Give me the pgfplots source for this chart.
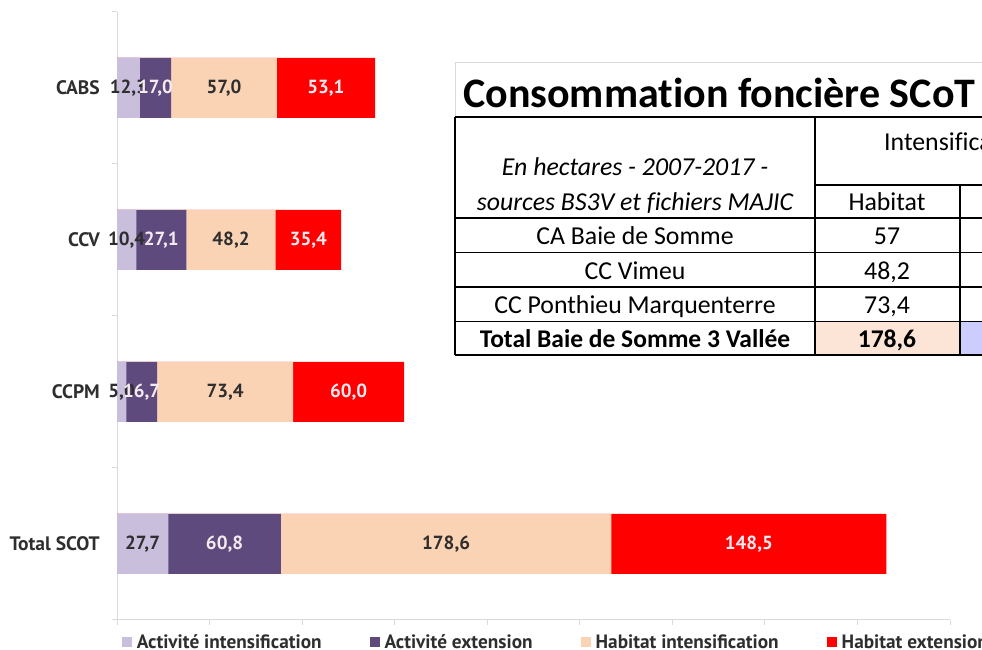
\documentclass[border=0pt]{standalone}
\usepackage{fontspec}
\usepackage{pgfplots}
\usepackage{pgfplotstable}
\pgfplotsset{compat=1.18}
\newfontfamily\dinfont{PT Sans}
\newfontfamily\calibri[Ligatures=NoCommon]{Carlito}
\definecolor{cA}{HTML}{C9BFDC}
\definecolor{cB}{HTML}{5E4A7D}
\definecolor{cC}{HTML}{FAD2B4}
\definecolor{cD}{HTML}{FF0000}
\definecolor{axgray}{HTML}{DADADA}
\definecolor{txtdark}{HTML}{2E2E2E}
\definecolor{txtlight}{HTML}{F4EAF0}
\definecolor{peach}{HTML}{FCE4D6}
\definecolor{lav}{HTML}{CCCCFF}

% values in hectares: A Activite intensification, B Activite extension,
% C Habitat intensification, D Habitat extension
\pgfplotstableread{
y  A    B    C     D     la   lb   lc    ld
3  12.3 17.0 57.0  53.1  12,3 17,0 57,0  53,1
2  10.4 27.1 48.2  35.4  10,4 27,1 48,2  35,4
1  5.0  16.7 73.4  60.0  5,0  16,7 73,4  60,0
0  27.7 60.8 178.6 148.5 27,7 60,8 178,6 148,5
}\datatable
% cumulative ends and segment centres derived from the values
\pgfplotstablecreatecol[create col/expr={\thisrow{A}+\thisrow{B}}]{sAB}\datatable
\pgfplotstablecreatecol[create col/expr={\thisrow{sAB}+\thisrow{C}}]{sABC}\datatable
\pgfplotstablecreatecol[create col/expr={\thisrow{sABC}+\thisrow{D}}]{sABCD}\datatable
\pgfplotstablecreatecol[create col/expr={\thisrow{A}/2}]{mA}\datatable
\pgfplotstablecreatecol[create col/expr={\thisrow{A}+\thisrow{B}/2}]{mB}\datatable
\pgfplotstablecreatecol[create col/expr={\thisrow{sAB}+\thisrow{C}/2}]{mC}\datatable
\pgfplotstablecreatecol[create col/expr={\thisrow{sABC}+\thisrow{D}/2}]{mD}\datatable

\begin{document}
\begin{tikzpicture}
\useasboundingbox (0,0) rectangle (982pt,650pt);
\begin{axis}[
  at={(117pt,30pt)}, anchor=south west,
  scale only axis, width=833pt, height=608pt,
  xmin=0, xmax=450, ymin=-0.5, ymax=3.5,
  axis x line*=bottom, axis y line*=left,
  axis line style={draw=axgray, line width=1pt},
  tick align=outside,
  major tick length=5pt,
  tick style={draw=axgray, line width=1pt},
  xtick={0,50,...,450}, xticklabels={},
  ytick={-0.5,0.5,1.5,2.5,3.5}, yticklabels={},
  extra y ticks={0,1,2,3},
  extra y tick labels={Total SCOT,CCPM,CCV,CABS},
  extra y tick style={major tick length=0pt,
    yticklabel style={font=\dinfont\bfseries\fontsize{19.5}{21}\selectfont, text=txtdark, inner sep=0pt, anchor=east, xshift=-17pt}},
  barstyle/.style={xbar, bar width=60pt, bar shift=0pt, draw=none, forget plot},
  lblstyle/.style={only marks, mark=none, forget plot, nodes near coords,
    point meta=explicit symbolic,
    every node near coord/.style={anchor=center, inner sep=0pt,
      font=\dinfont\bfseries\fontsize{19}{21}\selectfont, text=#1}},
  legend columns=4,
  legend style={at={(rel axis cs:0,0)}, anchor=west, xshift=4.7pt, yshift=-22pt,
    draw=none, fill=none, inner sep=0pt,
    nodes={inner sep=0pt, font=\dinfont\bfseries\fontsize{19.3}{21}\selectfont, text=txtdark},
    /tikz/every odd column/.append style={column sep=5pt},
    /tikz/every even column/.append style={column sep=48pt}},
  legend image code/.code={\fill[#1] (0pt,-5pt) rectangle (10pt,5pt);},
]
\addplot[barstyle, fill=cD] table[x=sABCD, y=y] {\datatable};
\addplot[barstyle, fill=cC] table[x=sABC, y=y] {\datatable};
\addplot[barstyle, fill=cB] table[x=sAB, y=y] {\datatable};
\addplot[barstyle, fill=cA] table[x=A, y=y] {\datatable};
\addplot[lblstyle=txtdark] table[x=mA, y=y, meta=la] {\datatable};
\addplot[lblstyle=txtlight] table[x=mB, y=y, meta=lb] {\datatable};
\addplot[lblstyle=txtdark] table[x=mC, y=y, meta=lc] {\datatable};
\addplot[lblstyle=txtlight] table[x=mD, y=y, meta=ld] {\datatable};
\addlegendimage{fill=cA, draw=none}
\addlegendentry{Activité intensification}
\addlegendimage{fill=cB, draw=none}
\addlegendentry{Activité extension}
\addlegendimage{fill=cC, draw=none}
\addlegendentry{Habitat intensification}
\addlegendimage{fill=cD, draw=none}
\addlegendentry{Habitat extension}
\end{axis}

% overlay table
\begin{scope}
\clip (0,0) rectangle (982pt,650pt);
\fill[white] (455pt,587pt) rectangle (990pt,295pt);
\fill[peach] (815pt,329pt) rectangle (960pt,295pt);
\fill[lav] (960pt,329pt) rectangle (990pt,295pt);
\draw[axgray, line width=1pt] (455pt,533pt) -- (455pt,587pt) -- (990pt,587pt);
\begin{scope}[line width=1.3pt, black]
\draw (455pt,533pt) -- (990pt,533pt);
\draw (815pt,465pt) -- (990pt,465pt);
\draw (455pt,432pt) -- (990pt,432pt);
\draw (455pt,397.5pt) -- (990pt,397.5pt);
\draw (455pt,363pt) -- (990pt,363pt);
\draw (455pt,328.5pt) -- (990pt,328.5pt);
\draw (455pt,295pt) -- (990pt,295pt);
\draw (455pt,533pt) -- (455pt,295pt);
\draw (815pt,533pt) -- (815pt,295pt);
\draw (960pt,465pt) -- (960pt,295pt);
\end{scope}
\node[anchor=base west, inner sep=0pt, font=\calibri\bfseries\fontsize{42}{48}\selectfont] at (463pt,542pt) {Consommation foncière SCoT};
\begin{scope}[every node/.style={anchor=base, inner sep=0pt, font=\calibri\fontsize{25.8}{30}\selectfont}]
\node[font=\calibri\itshape\fontsize{25.8}{30}\selectfont] at (635pt,474pt) {En hectares - 2007-2017 -};
\node[font=\calibri\itshape\fontsize{25.8}{30}\selectfont] at (635pt,439pt) {sources BS3V et fichiers MAJIC};
\node[anchor=base west] at (884pt,499pt) {Intensification};
\node at (887pt,439pt) {Habitat};
\node at (635pt,405pt) {CA Baie de Somme};
\node at (887pt,405pt) {57};
\node at (635pt,370.5pt) {CC Vimeu};
\node at (887pt,370.5pt) {48,2};
\node at (635pt,336pt) {CC Ponthieu Marquenterre};
\node at (887pt,336pt) {73,4};
\node[font=\calibri\bfseries\fontsize{25.5}{30}\selectfont] at (635pt,302pt) {Total Baie de Somme 3 Vallée};
\node[font=\calibri\bfseries\fontsize{25.5}{30}\selectfont] at (887pt,302pt) {178,6};
\end{scope}
\end{scope}
\end{tikzpicture}
\end{document}
